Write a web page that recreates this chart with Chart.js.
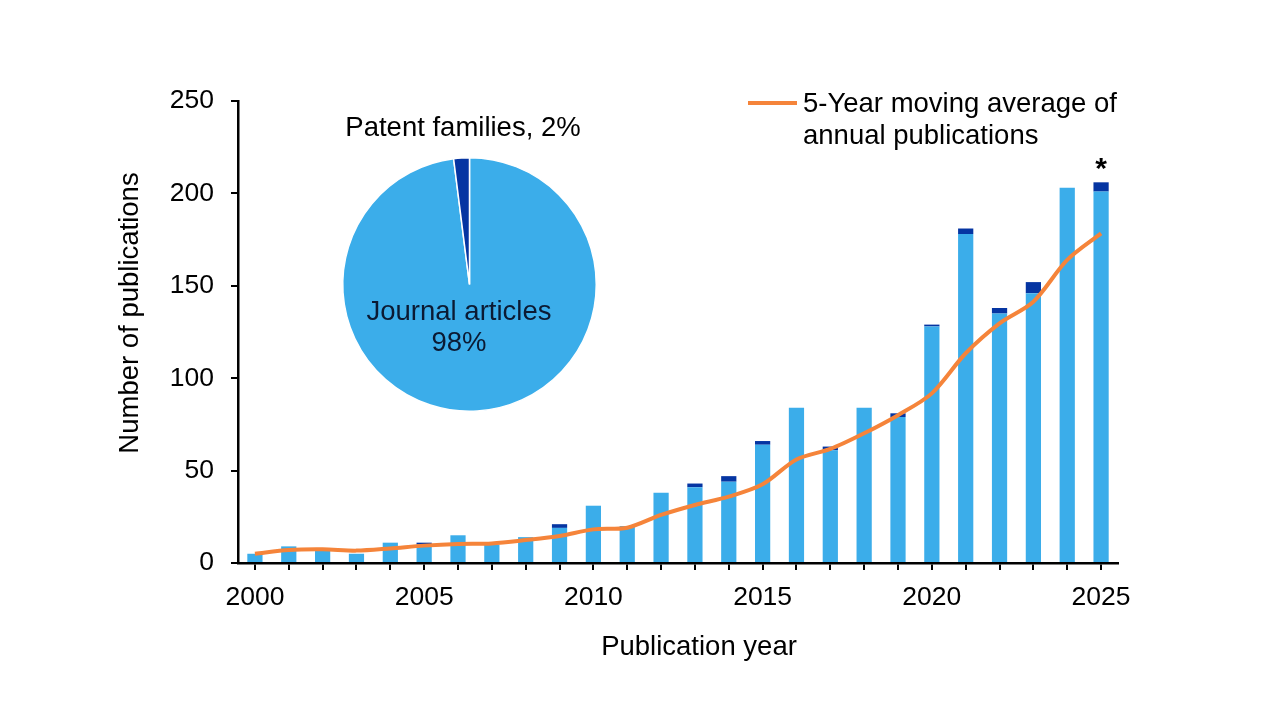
<!DOCTYPE html>
<html>
<head>
<meta charset="utf-8">
<title>Publications per year</title>
<script src="https://cdn.jsdelivr.net/npm/chart.js@4.4.1/dist/chart.umd.min.js"></script>
<style>
  body { margin: 0; background: #ffffff; }
  #wrap { position: relative; width: 1280px; height: 720px; }
  #chart1 { position: absolute; left: 0; top: 0; }
  #chart2 { position: absolute; left: 330px; top: 100px; }
</style>
</head>
<body>
<div id="wrap">
  <canvas id="chart1" width="1280" height="720"></canvas>
  <canvas id="chart2" width="280" height="320"></canvas>
</div>
<script>
const years = ['2000','2001','2002','2003','2004','2005','2006','2007','2008','2009','2010','2011','2012',
  '2013','2014','2015','2016','2017','2018','2019','2020','2021','2022','2023','2024','2025'];
const journalArticles = [5, 9, 7, 5, 11, 10, 15, 10, 14, 19, 31, 20, 38, 41, 44, 64, 84, 61, 84, 79, 128, 178, 135, 146, 203, 201];
const patentFamilies = [0, 0, 0, 0, 0, 1, 0, 0, 0, 2, 0, 0, 0, 2, 3, 2, 0, 2, 0, 2, 1, 3, 3, 6, 0, 5];
const movingAverage = [5.0, 7.0, 7.4, 6.7, 7.9, 9.4, 10.3, 10.6, 12.4, 14.6, 18.2, 19.1, 26.0, 31.4, 35.9, 42.6,
  56.0, 61.7, 70.2, 80.0, 91.8, 113.5, 129.7, 141.4, 164.0, 178.4];
const yTicks = [0, 50, 100, 150, 200, 250];
const legendLines = ['5-Year moving average of', 'annual publications'];
const pieLabels = ['Journal articles', 'Patent families'];
const pieShares = [98, 2];

const lightBlue = '#3badea';
const darkBlue = '#0535a2';
const orange = '#f5843a';
const fontName = '"Liberation Sans", Arial, sans-serif';
const textFont = '27.5px ' + fontName;

Chart.defaults.font.family = fontName;
Chart.defaults.font.size = 26.5;
Chart.defaults.color = '#000';

let extras = {
  id: 'extras',
  afterDraw(chart) {
    const c = chart.ctx;
    const x = chart.scales.x;
    const y = chart.scales.y;
    c.save();
    c.fillStyle = '#000';
    c.font = textFont;

    // axis titles
    c.textAlign = 'center';
    c.textBaseline = 'middle';
    c.fillText('Publication year', 699, 647);
    c.save();
    c.translate(130, 313);
    c.rotate(-Math.PI / 2);
    c.fillText('Number of publications', 0, 0);
    c.restore();

    // legend
    c.strokeStyle = orange;
    c.lineWidth = 4;
    c.beginPath();
    c.moveTo(748, 103);
    c.lineTo(797, 103);
    c.stroke();
    c.textAlign = 'left';
    legendLines.forEach((t, i) => c.fillText(t, 803, 104 + i * 32));

    // asterisk on the last (partial) year
    const last = years.length - 1;
    const top = y.getPixelForValue(journalArticles[last] + patentFamilies[last]);
    c.textAlign = 'center';
    c.textBaseline = 'alphabetic';
    c.font = 'bold 30px ' + fontName;
    c.fillText('*', x.getPixelForValue(last), top - 4);
    c.restore();
  }
};

let ctx = document.getElementById('chart1').getContext('2d');
let myChart = new Chart(ctx, {
  type: 'bar',
  data: {
    labels: years,
    datasets: [{
      label: 'Journal articles',
      data: journalArticles,
      backgroundColor: lightBlue,
      stack: 'pubs',
      order: 1,
      barPercentage: 0.45,
      categoryPercentage: 1
    }, {
      label: 'Patent families',
      data: patentFamilies,
      backgroundColor: darkBlue,
      stack: 'pubs',
      order: 1,
      barPercentage: 0.45,
      categoryPercentage: 1
    }, {
      type: 'line',
      label: legendLines.join(' '),
      data: movingAverage,
      borderColor: orange,
      borderWidth: 4,
      pointRadius: 0,
      tension: 0.3,
      stack: 'avg',
      order: 0
    }]
  },
  options: {
    responsive: false,
    animation: false,
    layout: { padding: { top: 101, right: 162, bottom: 0, left: 0 } },
    plugins: { legend: { display: false }, tooltip: { enabled: false } },
    scales: {
      x: {
        stacked: true,
        offset: true,
        afterFit(scale) { scale.height = 157; },
        grid: { offset: false, drawOnChartArea: false, tickLength: 7, color: '#000', lineWidth: 2 },
        border: { color: '#000', width: 2.5 },
        ticks: {
          autoSkip: false,
          maxRotation: 0,
          padding: 12,
          callback: function(v, i) { return i % 5 === 0 ? years[i] : ''; }
        }
      },
      y: {
        stacked: true,
        min: 0,
        max: 250,
        afterFit(scale) { scale.width = 238; },
        afterBuildTicks(scale) { scale.ticks = yTicks.map(v => ({ value: v })); },
        grid: { drawOnChartArea: false, tickLength: 7, color: '#000', lineWidth: 2 },
        border: { color: '#000', width: 2.5 },
        ticks: { padding: 17 }
      }
    }
  },
  plugins: [extras]
});

let pieText = {
  id: 'pieText',
  afterDraw(chart) {
    const c = chart.ctx;
    c.save();
    c.font = textFont;
    c.textAlign = 'center';
    c.textBaseline = 'middle';
    c.fillStyle = '#000';
    c.fillText(pieLabels[1] + ', ' + pieShares[1] + '%', 133, 28);
    c.fillStyle = '#0b1a33';
    c.fillText(pieLabels[0], 129, 212);
    c.fillText(pieShares[0] + '%', 129, 243);
    c.restore();
  }
};

let ctx2 = document.getElementById('chart2').getContext('2d');
let pieChart = new Chart(ctx2, {
  type: 'pie',
  data: {
    labels: pieLabels,
    datasets: [{
      data: pieShares,
      backgroundColor: [lightBlue, darkBlue],
      borderColor: '#ffffff',
      borderWidth: 1.5,
      hoverOffset: 0
    }]
  },
  options: {
    responsive: false,
    animation: false,
    layout: { padding: { top: 57, right: 13, bottom: 8, left: 12 } },
    plugins: { legend: { display: false }, tooltip: { enabled: false } }
  },
  plugins: [pieText]
});
</script>
</body>
</html>
